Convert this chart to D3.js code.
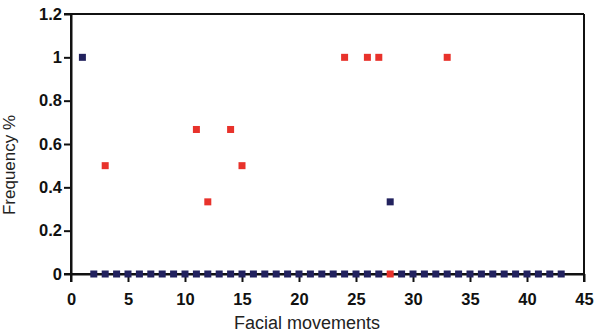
<!DOCTYPE html>
<html><head><meta charset="utf-8">
<script src="https://cdn.jsdelivr.net/npm/d3@7"></script>
<style>
html,body{margin:0;padding:0;background:#fff;}
svg{display:block;}
</style></head>
<body>
<svg id="chart" width="596" height="333"></svg>
<script>
// Data
const blueX = [1,2,3,4,5,6,7,8,9,10,11,12,13,14,15,16,17,18,19,20,21,22,23,24,25,26,27,28,29,30,31,32,33,34,35,36,37,38,39,40,41,42,43];
const blueY = [1,0,0,0,0,0,0,0,0,0,0,0,0,0,0,0,0,0,0,0,0,0,0,0,0,0,0,0.333,0,0,0,0,0,0,0,0,0,0,0,0,0,0,0];
const redX = [3,11,12,14,15,24,26,27,28,33];
const redY = [0.5,0.667,0.333,0.667,0.5,1,1,1,0,1];
const xTicks = [0,5,10,15,20,25,30,35,40,45];
const yTicks = [0,0.2,0.4,0.6,0.8,1,1.2];

(function(){
const svg = d3.select("#chart");
const mL = 71, mR = 584, mT = 14, mB = 274;
const x = d3.scaleLinear().domain([0,45]).range([mL,mR]);
const y = d3.scaleLinear().domain([0,1.2]).range([mB,mT]);

const font = "'Liberation Sans', Arial, Helvetica, sans-serif";

svg.append("line").attr("x1",mL-7).attr("x2",mR).attr("y1",mT).attr("y2",mT)
  .attr("stroke","#111").attr("stroke-width",2);
svg.append("line").attr("x1",mR).attr("x2",mR).attr("y1",mT).attr("y2",mB)
  .attr("stroke","#111").attr("stroke-width",2);

const xAxis = svg.append("g").attr("transform",`translate(0,${mB})`)
  .call(d3.axisBottom(x).tickValues(xTicks).tickSize(8).tickSizeOuter(0).tickPadding(11).tickFormat(d3.format("d")));
const yAxis = svg.append("g").attr("transform",`translate(${mL},0)`)
  .call(d3.axisLeft(y).tickValues(yTicks).tickSize(7).tickSizeOuter(0).tickPadding(2).tickFormat(d => d===0?"0":d===1?"1":d3.format(".1f")(d)));

[xAxis,yAxis].forEach(g=>{
  g.select(".domain").attr("stroke","#111").attr("stroke-width",2);
  g.selectAll(".tick line").attr("stroke","#111").attr("stroke-width",2);
  g.selectAll(".tick text").attr("fill","#111").style("font-family",font)
    .style("font-size","16.5px").style("font-weight","bold");
});
svg.append("line").attr("x1",mL).attr("x2",mL).attr("y1",mT-1).attr("y2",mB+8)
  .attr("stroke","#111").attr("stroke-width",2);
svg.append("line").attr("x1",mL-7).attr("x2",mR+1).attr("y1",mB).attr("y2",mB)
  .attr("stroke","#111").attr("stroke-width",2);
svg.append("line").attr("x1",mR).attr("x2",mR).attr("y1",mB).attr("y2",mB+8)
  .attr("stroke","#111").attr("stroke-width",2);

const s = 7;
const redData = redX.map((d,i)=>({x:d,y:redY[i]}));
const blueData = blueX.map((d,i)=>({x:d,y:blueY[i]}));

svg.append("g").selectAll("rect").data(redData).join("rect")
  .attr("x",d=>x(d.x)-s/2).attr("y",d=>y(d.y)-s/2).attr("width",s).attr("height",s)
  .attr("fill","#e8322b");
svg.append("g").selectAll("rect").data(blueData).join("rect")
  .attr("x",d=>x(d.x)-s/2).attr("y",d=>y(d.y)-s/2).attr("width",s).attr("height",s)
  .attr("fill","#22225e");

svg.append("text").attr("x",307).attr("y",329).attr("text-anchor","middle")
  .style("font-family",font).style("font-size","18px").attr("fill","#222")
  .text("Facial movements");
svg.append("text").attr("transform","translate(15,165) rotate(-90)").attr("text-anchor","middle")
  .style("font-family",font).style("font-size","17px").attr("fill","#222")
  .text("Frequency %");
})();
</script>
</body></html>
